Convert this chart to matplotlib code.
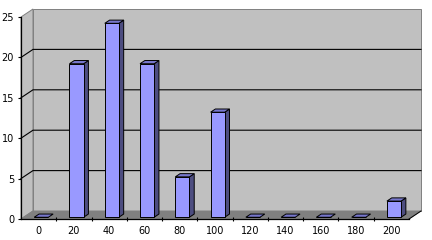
import matplotlib
matplotlib.use("Agg")
import matplotlib.pyplot as plt
from matplotlib.patches import Polygon

# ---- data ----
categories = ["0", "20", "40", "60", "80", "100", "120", "140", "160", "180", "200"]
values = [0, 19, 24, 19, 5, 13, 0, 0, 0, 0, 2]
y_ticks = [0, 5, 10, 15, 20, 25]

# ---- style ----
FRONT = "#9999FF"
TOP = "#7777CC"
SIDE = "#4D4D80"
WALL = "#C0C0C0"
FLOOR = "#808080"
FRAME = "#808080"
FONT = dict(family="DejaVu Sans", size=7)

W_PX, H_PX = 432, 240
fig = plt.figure(figsize=(W_PX / 100, H_PX / 100), dpi=100)
fig.patch.set_facecolor("white")

ax_l, ax_b, ax_w, ax_h = 21, 21, 388, 202
ax = fig.add_axes([ax_l / W_PX, ax_b / H_PX, ax_w / W_PX, ax_h / H_PX])
n = len(categories)
ymax = y_ticks[-1]
ax.set_xlim(-0.5, n - 0.5)
ax.set_ylim(0, ymax)
ax.patch.set_visible(False)

# depth vector (12 px right, 8 px up) in data units
DX = 12 * n / ax_w
DY = 8 * ymax / ax_h
x0, x1 = -0.5, n - 0.5

def poly(pts, fc, ec, lw=0.7, z=1):
    ax.add_patch(Polygon(pts, closed=True, facecolor=fc, edgecolor=ec,
                         linewidth=lw, zorder=z, clip_on=False, joinstyle="miter"))

# side wall
poly([(x0, 0), (x0 + DX, DY), (x0 + DX, ymax + DY), (x0, ymax)], WALL, FRAME, z=0.5)
# back wall
poly([(x0 + DX, DY), (x1 + DX, DY), (x1 + DX, ymax + DY), (x0 + DX, ymax + DY)], WALL, FRAME, z=0.5)
# floor
poly([(x0, 0), (x1, 0), (x1 + DX, DY), (x0 + DX, DY)], FLOOR, FLOOR, z=0.6)
ax.plot([x1, x1 + DX], [0, DY], color="black", lw=0.7, zorder=0.7, clip_on=False)

# gridlines on walls
for yv in y_ticks[1:-1]:
    ax.plot([x0, x0 + DX, x1 + DX], [yv, yv + DY, yv + DY], color="black",
            lw=0.8, zorder=0.8, clip_on=False, solid_joinstyle="miter")

# bars
f0, d, bw = 0.22, 0.4, 0.4
xs = [i + f0 * DX for i in range(n)]
base = f0 * DY
ax.bar(xs, values, width=bw, bottom=base, color=FRONT, edgecolor="black",
       linewidth=0.7, zorder=3)
for x, v in zip(xs, values):
    xl, xr = x - bw / 2, x + bw / 2
    top = base + v
    if v > 0:
        poly([(xr, base), (xr + d * DX, base + d * DY), (xr + d * DX, top + d * DY), (xr, top)],
             SIDE, "black", z=2.9)
    poly([(xl, top), (xr, top), (xr + d * DX, top + d * DY), (xl + d * DX, top + d * DY)],
         TOP, "black", z=2.9)

# axes / ticks
for s in ["top", "right"]:
    ax.spines[s].set_visible(False)
for s in ["left", "bottom"]:
    ax.spines[s].set_color("black")
    ax.spines[s].set_linewidth(0.9)
    ax.spines[s].set_zorder(2.5)

ax.set_yticks(y_ticks)
ax.set_yticklabels([str(t) for t in y_ticks], **FONT)
ax.tick_params(axis="y", length=2, width=0.8, pad=3, color="black")
ax.set_xticks(range(n))
ax.set_xticklabels(categories, **FONT)
ax.set_xticks([i + 0.5 for i in range(n - 1)], minor=True)
ax.tick_params(axis="x", which="major", length=0, pad=5)
ax.tick_params(axis="x", which="minor", length=3, width=0.8, direction="inout", color="black")

fig.savefig("out.png", dpi=100)
